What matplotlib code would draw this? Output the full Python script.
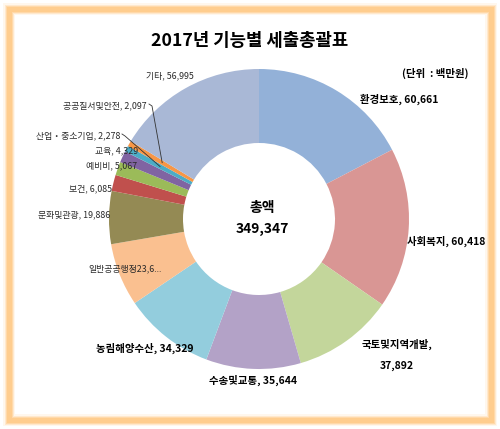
import matplotlib
matplotlib.use("Agg")
from matplotlib import pyplot as plt
from matplotlib.patches import Rectangle
import numpy as np

plt.rcParams['font.family'] = ['Noto Sans CJK KR', 'DejaVu Sans']

# data (단위 : 백만원)
names = ['환경보호', '사회복지', '국토및지역개발', '수송및교통', '농림해양수산',
         '일반공공행정', '문화및관광', '보건', '예비비', '교육',
         '산업・중소기업', '공공질서및안전', '기타']
values = [60661, 60418, 37892, 35644, 34329, 23666, 19886, 6085, 5067, 4329,
          2278, 2097, 56995]
colors = ['#93B1D8', '#D99694', '#C3D69B', '#B3A2C7', '#93CDDD', '#FAC090',
          '#948A54', '#C0504D', '#9BBB59', '#8064A2', '#4BACC6', '#F79646',
          '#A9B8D6']
total = sum(values)

W, H = 500, 429
fig = plt.figure(figsize=(W / 100, H / 100), dpi=100)
ax = fig.add_axes([0, 0, 1, 1])

# glowing orange frame
for lw, a in [(12, 0.15), (9, 0.3), (7, 0.5), (5, 0.8)]:
    fig.patches.append(Rectangle((9 / W, 9 / H), 482 / W, 411 / H, transform=fig.transFigure,
                                 fill=False, edgecolor='#FFCB88', linewidth=lw * 0.72, alpha=a))

cx, cy, R = 259, H - 219, 150
wedges, _ = ax.pie(values, colors=colors, startangle=90, counterclock=False,
                   center=(cx, cy), radius=R, frame=False,
                   wedgeprops=dict(width=74, edgecolor='none'))
ax.set_xlim(0, W)
ax.set_ylim(0, H)
ax.set_aspect('auto')
ax.axis('off')


def Y(y):
    return H - y


ax.text(250, Y(41), '2017년 기능별 세출총괄표', ha='center', va='center',
        fontsize=12.8, fontweight='bold')
ax.text(468, Y(73), '(단위  : 백만원)', ha='right', va='center', fontsize=7.5,
        fontweight='bold')

ax.text(262, Y(208), '총액', ha='center', va='center', fontsize=10, fontweight='bold')
ax.text(262, Y(229), f'{total:,}', ha='center', va='center', fontsize=10,
        fontweight='bold')

lab = [f'{n}, {v:,}' for n, v in zip(names, values)]
big = dict(fontsize=7.5, fontweight='bold', va='center')
small = dict(fontsize=6.4, va='center', color='#2a2a2a')

ax.text(360, Y(99), lab[0], ha='left', **big)
ax.text(407, Y(241), lab[1], ha='left', **big)
ax.text(397, Y(344), names[2] + ',', ha='center', **big)
ax.text(397, Y(366), f'{values[2]:,}', ha='center', **big)
ax.text(253, Y(380), lab[3], ha='center', **big)
ax.text(145, Y(348), lab[4], ha='center', **big)
ax.text(125, Y(269), names[5] + f'{values[5]:,}'[:4] + '...', ha='center', **small)
ax.text(110, Y(215), lab[6], ha='right', **small)
ax.text(112, Y(189), lab[7], ha='right', **small)
ax.text(137, Y(166), lab[8], ha='right', **small)
ax.text(138, Y(151), lab[9], ha='right', **small)
ax.text(120, Y(136), lab[10], ha='right', **small)
ax.text(147, Y(106), lab[11], ha='right', **small)
ax.text(170, Y(76), lab[12], ha='center', **small)

# leader lines for the two thinnest slices
for i, (x0, y0) in [(10, (122, 134)), (11, (149, 104))]:
    w = wedges[i]
    mid = np.deg2rad((w.theta1 + w.theta2) / 2)
    ex, ey = cx + 112 * np.cos(mid), cy + 112 * np.sin(mid)
    ax.plot([x0, x0 + 3, ex], [Y(y0), Y(y0 + 2), ey], color='#333333', lw=0.6)

fig.savefig('out.png', dpi=100)
